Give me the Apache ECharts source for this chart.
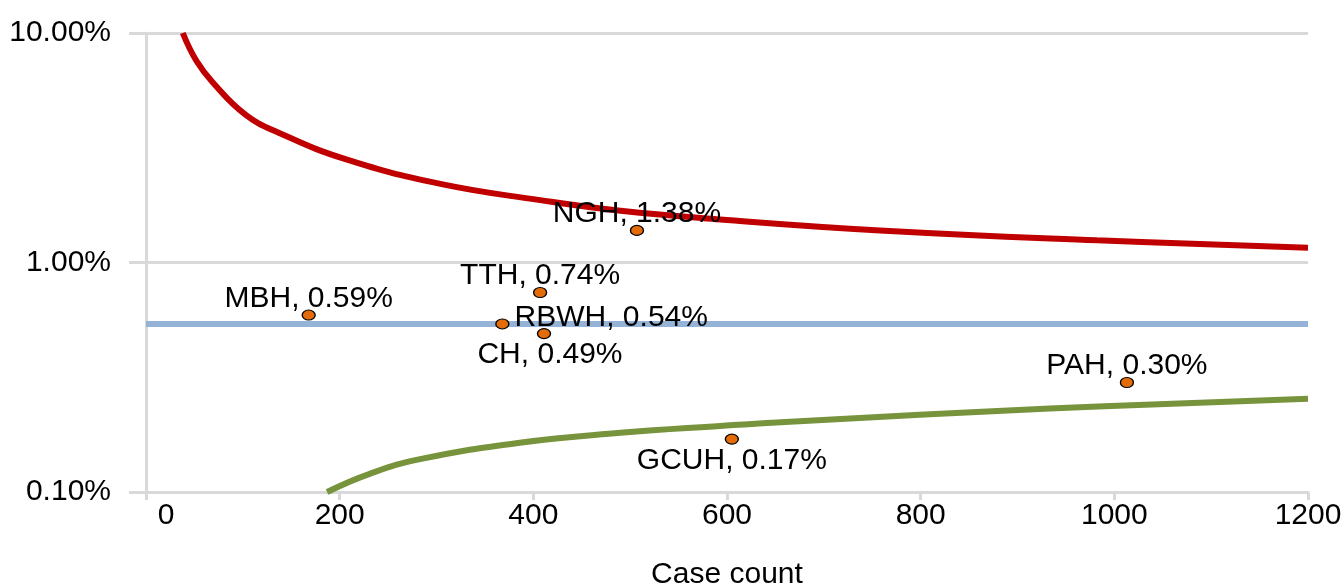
<!DOCTYPE html>
<html>
<head>
<meta charset="utf-8">
<script src="https://cdn.jsdelivr.net/npm/echarts@6/dist/echarts.min.js"></script>
<style>
  html, body { margin: 0; padding: 0; background: #fff; }
  #chart { width: 1342px; height: 585px; }
</style>
</head>
<body>
<div id="chart"></div>
<script>
// Hospitals: case count and rate (%)
const hospitals = ['MBH', 'TTH', 'RBWH', 'CH', 'NGH', 'PAH', 'GCUH'];
const caseCounts = [168, 407, 368, 411, 507, 1013, 605];
const rates = [0.59, 0.74, 0.54, 0.49, 1.38, 0.30, 0.17];

// Overall mean rate (%)
const meanN = [0, 1200];
const meanRate = [0.54, 0.54];

// Upper control limit (%)
const upperN = [38, 52, 69, 103, 137, 206, 304, 407, 490, 593, 758, 982, 1200];
const upperRate = [10.0, 7.57, 6.09, 4.40, 3.68, 2.82, 2.20, 1.87, 1.68, 1.54, 1.38, 1.25, 1.16];

// Lower control limit (%)
const lowerN = [187, 231, 283, 386, 490, 593, 665, 933, 1200];
const lowerRate = [0.100, 0.120, 0.139, 0.164, 0.181, 0.194, 0.2025, 0.231, 0.255];

// X axis ticks
const xMin = 0, xMax = 1200, xStep = 200;
// Y axis (log) range, %
const yMin = 0.1, yMax = 10;

const FONT = '"Liberation Sans", Arial, sans-serif';
const FS = 30;
const pairs = (xs, ys) => xs.map((x, i) => [x, ys[i]]);

// Where each hospital's label sits relative to its marker
const labelSide = {
  MBH: { position: 'top', distance: -4 },
  TTH: { position: 'top', distance: -4 },
  RBWH: { position: 'right', distance: 5, dy: -6 },
  CH: { position: 'bottom', distance: 1, dx: 6 },
  NGH: { position: 'top', distance: -4 },
  PAH: { position: 'top', distance: -4 },
  GCUH: { position: 'bottom', distance: 1 }
};

const pointData = hospitals.map((name, i) => {
  const side = labelSide[name];
  return {
    name: name,
    value: [caseCounts[i], rates[i]],
    label: { position: side.position, distance: side.distance }
  };
});

const chart = echarts.init(document.getElementById('chart'), null, { renderer: 'canvas' });
chart.setOption({
  animation: false,
  backgroundColor: '#ffffff',
  textStyle: { fontFamily: FONT },
  grid: { left: 146, right: 34, top: 33, bottom: 93, containLabel: false, outerBoundsMode: 'none' },
  xAxis: {
    type: 'value',
    min: xMin, max: xMax, interval: xStep,
    name: 'Case count',
    nameLocation: 'middle',
    nameGap: 68,
    nameTextStyle: { fontFamily: FONT, fontSize: FS, color: '#000' },
    axisLine: { show: true, lineStyle: { color: '#D9D9D9', width: 3 } },
    axisTick: { show: true, length: 8, lineStyle: { color: '#D9D9D9', width: 3 } },
    splitLine: { show: false },
    axisLabel: {
      fontFamily: FONT, fontSize: FS, color: '#000', margin: 9,
      formatter: v => (v === 0 ? '{z|0}' : String(v)),
      rich: { z: { fontFamily: FONT, fontSize: FS, color: '#000', padding: [0, 0, 0, 40] } }
    }
  },
  yAxis: {
    type: 'log',
    logBase: 10,
    min: yMin, max: yMax,
    axisLine: { show: true, onZero: false, lineStyle: { color: '#D9D9D9', width: 3 } },
    axisTick: { show: true, length: 17, lineStyle: { color: '#D9D9D9', width: 3 } },
    minorTick: { show: false },
    splitLine: { show: true, lineStyle: { color: '#D9D9D9', width: 3 } },
    axisLabel: {
      fontFamily: FONT, fontSize: FS, color: '#000', margin: 35,
      formatter: v => v.toFixed(2) + '%'
    }
  },
  series: [
    {
      name: 'Mean',
      type: 'line',
      data: pairs(meanN, meanRate),
      symbol: 'none',
      lineStyle: { color: '#95B3D7', width: 6 },
      silent: true,
      z: 2
    },
    {
      name: 'Upper limit',
      type: 'line',
      data: pairs(upperN, upperRate),
      symbol: 'none',
      smooth: 0.45,
      clip: true,
      lineStyle: { color: '#C00000', width: 6, cap: 'butt' },
      silent: true,
      z: 3
    },
    {
      name: 'Lower limit',
      type: 'line',
      data: pairs(lowerN, lowerRate),
      symbol: 'none',
      smooth: 0.45,
      clip: true,
      lineStyle: { color: '#77933C', width: 6, cap: 'butt' },
      silent: true,
      z: 3
    },
    {
      name: 'Hospitals',
      type: 'scatter',
      data: pointData,
      symbol: 'path://M0,1A1,1,0,1,1,2,1A1,1,0,1,1,0,1Z',
      symbolSize: [13, 10],
      itemStyle: { color: '#E36C09', borderColor: '#000', borderWidth: 1.2, opacity: 1 },
      label: {
        show: true,
        fontFamily: FONT,
        fontSize: FS,
        color: '#000',
        formatter: p => p.name + ', ' + p.value[1].toFixed(2) + '%'
      },
      // nudge individual labels a few pixels
      labelLayout: params => {
        const side = labelSide[hospitals[params.dataIndex]];
        return { dx: side.dx || 0, dy: side.dy || 0, hideOverlap: false };
      },
      emphasis: { disabled: true },
      z: 5
    }
  ]
});
</script>
</body>
</html>
